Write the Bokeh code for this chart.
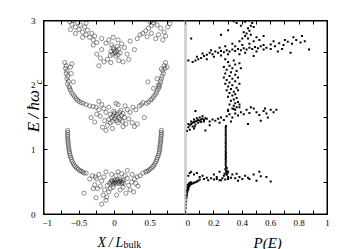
from math import pi
from bokeh.plotting import figure
from bokeh.layouts import row, column
from bokeh.models import Range1d, LinearAxis, FixedTicker, Label, Span
from bokeh.embed import file_html
from bokeh.resources import INLINE

EDGE_COLOR = "black"
TOPAX_COLOR = "black"
BOTAX_COLOR = "black"

# ---------------- data: left panel (X / L_bulk , E / hbar w_c) ----------------
band0_left_curve = [(-0.66,1.30),(-0.66,1.27),(-0.66,1.24),(-0.66,1.21),(-0.66,1.18),(-0.655,1.15),
    (-0.655,1.12),(-0.65,1.09),(-0.65,1.06),(-0.645,1.03),(-0.64,1.00),(-0.635,0.97),(-0.63,0.94),
    (-0.625,0.91),(-0.615,0.88),(-0.605,0.85),(-0.595,0.82),(-0.58,0.79),(-0.565,0.76),(-0.55,0.74),
    (-0.53,0.72),(-0.51,0.70),(-0.49,0.68),(-0.47,0.67),(-0.45,0.66),(-0.43,0.64)]
band0_right_curve = [(0.66,1.30),(0.66,1.27),(0.66,1.24),(0.655,1.21),(0.655,1.18),(0.65,1.15),
    (0.65,1.12),(0.645,1.09),(0.64,1.06),(0.64,1.03),(0.635,1.00),(0.63,0.97),(0.625,0.94),
    (0.615,0.91),(0.605,0.88),(0.595,0.85),(0.585,0.82),(0.57,0.79),(0.555,0.76),(0.54,0.74),
    (0.52,0.72),(0.50,0.70),(0.48,0.68),(0.46,0.67),(0.44,0.66)]
band0_cluster = [(-0.05,0.50),(-0.03,0.51),(-0.01,0.49),(0.01,0.50),(0.03,0.52),(0.05,0.50),(0.07,0.51),
    (0.09,0.52),(0.11,0.50),(0.0,0.53),(0.02,0.48),(0.06,0.48),(-0.02,0.47),(0.04,0.54),(0.08,0.55),
    (0.10,0.48),(-0.04,0.53),(0.12,0.53),(-0.07,0.48),(0.13,0.49),
    (-0.31,0.60),(-0.27,0.58),(-0.25,0.55),(-0.22,0.62),(-0.28,0.46),(-0.24,0.40),(-0.20,0.44),
    (-0.18,0.52),(-0.15,0.58),(-0.12,0.66),(-0.10,0.45),(-0.14,0.38),(-0.08,0.35),(-0.06,0.40),
    (-0.16,0.30),(-0.11,0.27),(-0.04,0.62),(0.02,0.60),(0.05,0.66),(0.08,0.38),(0.12,0.42),
    (0.15,0.60),(0.18,0.56),(0.20,0.45),(0.22,0.38),(0.25,0.62),(0.28,0.55),(0.30,0.48),(0.33,0.44),
    (0.36,0.60),(0.40,0.64),(0.27,0.35),(0.16,0.33),(-0.40,0.64),(-0.35,0.55),(-0.43,0.33),
    (-0.26,0.26),(-0.12,0.22),(-0.18,0.16),(0.03,0.30),(0.10,0.63),(-0.02,0.42),(0.18,0.68),
    (0.24,0.50),(-0.30,0.40),(0.32,0.58)]
band1_left_curve = [(-0.70,2.35),(-0.68,2.30),(-0.69,2.26),(-0.67,2.22),(-0.68,2.18),(-0.66,2.14),
    (-0.67,2.10),(-0.65,2.06),(-0.66,2.02),(-0.64,1.98),(-0.63,1.95),(-0.62,1.92),(-0.60,1.88),
    (-0.58,1.85),(-0.56,1.82),(-0.54,1.79),(-0.52,1.77),(-0.50,1.75),(-0.47,1.73),(-0.44,1.72),
    (-0.62,2.28),(-0.60,2.33),(-0.58,2.05),(-0.61,2.18)]
band1_right_curve = [(0.72,2.35),(0.70,2.30),(0.71,2.26),(0.68,2.22),(0.69,2.18),(0.67,2.14),
    (0.66,2.10),(0.65,2.06),(0.64,2.02),(0.63,1.98),(0.62,1.95),(0.60,1.92),(0.59,1.88),(0.57,1.85),
    (0.55,1.82),(0.53,1.79),(0.51,1.77),(0.48,1.74),(0.45,1.72),(0.60,2.10),(0.62,2.00),(0.55,1.95),
    (0.74,2.28),(0.66,2.25),(0.47,2.05)]
band1_cluster = [(-0.04,1.50),(-0.02,1.53),(0.0,1.48),(0.02,1.52),(0.04,1.55),(0.06,1.50),(0.08,1.47),
    (0.10,1.53),(0.12,1.56),(0.0,1.57),(0.03,1.45),(-0.06,1.55),(0.07,1.58),(0.14,1.50),(-0.08,1.47),
    (0.05,1.42),(-0.01,1.60),(0.11,1.44),(0.09,1.61),(-0.03,1.44),
    (-0.40,1.70),(-0.35,1.68),(-0.30,1.67),(-0.26,1.66),(-0.22,1.62),(-0.18,1.70),(-0.15,1.64),
    (-0.12,1.58),(-0.20,1.52),(-0.25,1.55),(-0.14,1.45),(-0.10,1.38),(-0.17,1.35),(-0.12,1.30),
    (-0.06,1.42),(-0.03,1.33),(0.18,1.62),(0.22,1.58),(0.26,1.66),(0.30,1.62),(0.35,1.68),
    (0.38,1.70),(0.40,1.73),(0.20,1.48),(0.25,1.42),(0.28,1.36),(0.32,1.40),(0.16,1.40),(0.12,1.36),
    (0.05,1.70),(-0.08,1.66),(0.02,1.72),(-0.33,1.50),(0.42,1.50),(-0.28,1.43),(0.15,1.68),(-0.22,1.75)]
band2_cluster = [(-0.05,2.52),(-0.03,2.48),(-0.01,2.55),(0.01,2.50),(0.03,2.53),(0.05,2.47),(-0.02,2.58),
    (0.02,2.45),(0.06,2.56),(-0.06,2.46),(0.0,2.52),(0.04,2.60),(-0.04,2.62),(0.08,2.50),
    (-0.20,2.42),(-0.15,2.36),(-0.10,2.40),(-0.25,2.48),(-0.18,2.55),(-0.12,2.65),(-0.08,2.70),
    (-0.02,2.74),(0.05,2.70),(0.10,2.64),(0.14,2.58),(0.18,2.48),(0.20,2.40),(0.12,2.36),(0.06,2.38),
    (-0.05,2.35),(-0.22,2.30),(0.28,2.55),(0.22,2.68)]
band2_arms = [(0.32,2.72),(0.36,2.78),(0.40,2.80),(0.44,2.84),(0.48,2.88),(0.52,2.92),(0.55,2.96),
    (0.56,3.0),(0.50,2.98),(0.60,2.93),(0.65,2.88),(0.70,2.82),(0.72,2.76),(0.62,2.78),(0.68,2.70),
    (0.58,2.72),(0.52,2.80),(0.75,2.90),(0.78,2.95),(0.46,2.75),
    (-0.30,2.70),(-0.35,2.74),(-0.40,2.78),(-0.45,2.82),(-0.50,2.86),(-0.55,2.90),(-0.60,2.94),
    (-0.63,2.98),(-0.58,3.0),(-0.52,2.97),(-0.48,2.93),(-0.42,2.90),(-0.38,2.85),(-0.32,2.80),
    (-0.28,2.76),(-0.55,2.80),(-0.45,2.74),(-0.25,2.66),(-0.30,2.62),(-0.18,2.72),(-0.62,2.86),
    (-0.40,2.96)]

# ---------------- data: right panel (P(E), E / hbar w_c) ----------------
p_bottom = [(0.003,0.15),(0.005,0.20),(0.006,0.25),(0.008,0.28),(0.010,0.31),(0.012,0.34),(0.015,0.37),
    (0.018,0.40),(0.022,0.42),(0.027,0.44),(0.032,0.46),(0.04,0.47),(0.05,0.48),(0.06,0.49),(0.07,0.50),
    (0.08,0.51),(0.09,0.52),(0.012,0.42),(0.02,0.45),(0.03,0.49),(0.008,0.38),(0.015,0.46),(0.025,0.48),
    (0.04,0.50),(0.01,0.35),(0.005,0.30),(0.002,0.10),(0.02,0.39)]
p_band0 = [(0.10,0.54),(0.13,0.55),(0.16,0.53),(0.18,0.56),(0.20,0.54),(0.22,0.55),(0.24,0.53),
    (0.26,0.56),(0.28,0.54),(0.30,0.55),(0.32,0.57),(0.35,0.56),(0.38,0.58),(0.40,0.55),(0.44,0.57),
    (0.48,0.62),(0.50,0.52),(0.53,0.59),(0.57,0.58),(0.60,0.51),(0.06,0.62),(0.08,0.64),(0.04,0.66),
    (0.12,0.60),(0.20,0.62),(0.24,0.66),(0.33,0.62),(0.36,0.63),(0.42,0.60),(0.45,0.55),(0.52,0.66),
    (0.30,0.58),(0.27,0.60),(0.15,0.57),(0.37,0.52),(0.02,0.60),(0.03,0.64),(0.10,0.58),(0.22,0.58),
    (0.29,0.62),(0.25,0.53)]
p_plateau = [(0.29,0.62),(0.295,0.64),(0.285,0.66),(0.29,0.68),(0.28,0.70),(0.29,0.72),(0.285,0.74),
    (0.283,0.77),(0.283,0.80),(0.284,0.83),(0.283,0.86),(0.284,0.89),(0.283,0.92),(0.284,0.95),
    (0.283,0.98),(0.284,1.01),(0.283,1.04),(0.284,1.07),(0.283,1.10),(0.284,1.13),(0.283,1.16),
    (0.284,1.19),(0.283,1.22),(0.284,1.25),(0.283,1.28),(0.284,1.31),(0.283,1.34),(0.285,1.37),
    (0.275,0.63),(0.30,0.66)]
p_band1 = [(0.02,1.35),(0.03,1.38),(0.04,1.40),(0.05,1.42),(0.06,1.43),(0.07,1.44),(0.08,1.45),
    (0.09,1.46),(0.10,1.45),(0.11,1.47),(0.12,1.48),(0.13,1.46),(0.14,1.49),(0.15,1.48),(0.02,1.40),
    (0.04,1.44),(0.06,1.47),(0.08,1.49),(0.03,1.31),(0.05,1.36),(0.07,1.39),(0.09,1.42),(0.11,1.43),
    (0.13,1.44),(0.01,1.29),(0.12,1.52),(0.10,1.50),(0.06,1.33),(0.065,1.36),
    (0.17,1.44),(0.19,1.47),(0.21,1.45),(0.23,1.48),(0.25,1.50),(0.27,1.46),(0.29,1.52),(0.31,1.55),
    (0.33,1.50),(0.35,1.56),(0.37,1.53),(0.39,1.58),(0.41,1.55),(0.43,1.62),(0.45,1.57),(0.48,1.64),
    (0.50,1.58),(0.52,1.54),(0.55,1.60),(0.57,1.56),(0.60,1.62),(0.62,1.58),(0.64,1.62),(0.58,1.50),
    (0.53,1.45),(0.44,1.40),(0.38,1.66),(0.35,1.62),(0.30,1.60),(0.32,1.44),(0.24,1.42),(0.14,1.30),
    (0.17,1.38),(0.07,1.60),(0.46,1.66),(0.56,1.64)]
p_column = [(0.30,1.62),(0.33,1.64),(0.36,1.66),(0.34,1.68),(0.31,1.70),(0.35,1.72),(0.37,1.74),
    (0.32,1.76),(0.34,1.78),(0.36,1.80),(0.30,1.82),(0.33,1.84),(0.35,1.86),(0.31,1.88),(0.34,1.90),
    (0.29,1.92),(0.32,1.94),(0.36,1.96),(0.30,1.98),(0.33,2.00),(0.28,2.02),(0.31,2.04),(0.35,2.06),
    (0.29,2.08),(0.33,2.10),(0.27,2.12),(0.31,2.14),(0.35,2.16),(0.28,2.18),(0.32,2.20),(0.36,2.22),
    (0.29,2.24),(0.33,2.26),(0.27,2.28),(0.31,2.30),(0.35,2.32),(0.38,2.34),(0.30,2.36),(0.34,2.38),
    (0.28,2.40),(0.37,1.92),(0.38,2.02),(0.34,1.63),(0.38,1.70),(0.37,2.12),(0.39,2.26)]
p_band2 = [(0.05,2.36),(0.07,2.38),(0.09,2.40),(0.11,2.42),(0.08,2.44),(0.13,2.45),(0.15,2.47),
    (0.12,2.49),(0.17,2.50),(0.19,2.48),(0.21,2.52),(0.23,2.50),(0.25,2.53),(0.27,2.51),(0.29,2.54),
    (0.31,2.52),(0.33,2.55),(0.35,2.53),(0.37,2.56),(0.39,2.54),(0.41,2.57),(0.43,2.55),(0.45,2.58),
    (0.47,2.56),(0.49,2.59),(0.51,2.57),(0.53,2.60),(0.55,2.62),(0.57,2.58),(0.60,2.63),(0.63,2.60),
    (0.66,2.65),(0.69,2.62),(0.72,2.67),(0.75,2.64),(0.78,2.70),(0.81,2.66),(0.84,2.68),(0.87,2.55),
    (0.20,2.44),(0.25,2.46),(0.30,2.48),(0.35,2.60),(0.40,2.62),(0.45,2.64),(0.50,2.52),(0.55,2.55),
    (0.60,2.56),(0.65,2.52),(0.70,2.70),(0.76,2.74),(0.82,2.76),(0.24,2.58),(0.18,2.54),(0.28,2.60),
    (0.33,2.64),(0.38,2.48),(0.42,2.50),(0.62,2.68),(0.02,2.38),(0.04,2.72),(0.15,2.40),(0.48,2.45),
    (0.68,2.56),(0.74,2.50)]
p_top = [(0.38,2.68),(0.40,2.72),(0.42,2.76),(0.43,2.80),(0.45,2.84),(0.44,2.88),(0.46,2.92),
    (0.47,2.96),(0.45,3.0),(0.42,2.98),(0.48,2.90),(0.41,2.82),(0.46,2.78),(0.50,2.74),(0.52,2.70),
    (0.55,2.76),(0.36,2.96),(0.34,2.99),(0.30,2.85),(0.25,2.78),(0.39,2.92),(0.44,2.72),(0.48,2.68)]

left_ticks_major = [-1, -0.5, 0, 0.5]
left_ticks_minor = [-0.75, -0.25, 0.25, 0.75]
left_ticks_all = [-1, -0.75, -0.5, -0.25, 0, 0.25, 0.5, 0.75]
right_ticks_major = [0, 0.2, 0.4, 0.6, 0.8, 1]
right_ticks_minor = [0.1, 0.3, 0.5, 0.7, 0.9]
right_ticks_all = [0, 0.1, 0.2, 0.3, 0.4, 0.5, 0.6, 0.7, 0.8, 0.9, 1]
e_ticks_major = [0, 1, 2, 3]
e_tick_labels = ["0", "1", "2", "3"]
e_ticks_all = [0, 0.5, 1, 1.5, 2, 2.5, 3]

SERIF = "Liberation Serif"
W_LEFT, W_FRAME, W_RIGHT = 42, 142, 24
TOP, FRAME_H, BOTTOM, STRIP_H = 20, 194, 15, 20
E_LO, E_HI = 0.0, 3.0

left_pts = (band0_left_curve + band0_right_curve + band0_cluster + band1_left_curve +
            band1_right_curve + band1_cluster + band2_cluster + band2_arms)
right_pts = p_bottom + p_band0 + p_plateau + p_band1 + p_column + p_band2 + p_top


def style_axis(ax, standoff=5, color=BOTAX_COLOR):
    ax.axis_line_color = color
    ax.axis_line_width = 1
    ax.major_tick_in = 4
    ax.major_tick_out = 0
    ax.minor_tick_in = 4
    ax.minor_tick_out = 0
    ax.major_tick_line_color = color
    ax.minor_tick_line_color = color
    ax.major_label_text_font = SERIF
    ax.major_label_text_font_size = "9px"
    ax.major_label_text_color = "black"
    ax.major_label_standoff = standoff


def ticks_only_axis(ticks):
    ax = LinearAxis(ticker=FixedTicker(ticks=ticks, minor_ticks=[]))
    style_axis(ax, standoff=0, color=TOPAX_COLOR)
    ax.major_label_overrides = {t: "" for t in ticks}
    ax.major_label_text_color = None
    return ax


def frame_edge(fig, loc, dim):
    fig.add_layout(Span(location=loc, dimension=dim, line_color=EDGE_COLOR, line_width=2))


def bare(fig):
    fig.grid.visible = False
    fig.outline_line_color = None
    fig.background_fill_color = "white"
    fig.border_fill_color = "white"
    return fig


common = dict(output_backend="svg", toolbar_location=None, x_axis_location=None,
              y_axis_location=None, frame_align=False, title=None)

# ---------------- left panel ----------------
p1 = bare(figure(width=W_FRAME + 1, height=TOP + FRAME_H + BOTTOM,
                 x_range=Range1d(-1, 1), y_range=Range1d(E_LO, E_HI),
                 min_border_left=1, min_border_right=0, min_border_top=TOP,
                 min_border_bottom=BOTTOM, **common))
xb = LinearAxis(ticker=FixedTicker(ticks=left_ticks_major, minor_ticks=left_ticks_minor))
style_axis(xb)
p1.add_layout(xb, "below")
p1.add_layout(ticks_only_axis(left_ticks_all), "above")
p1.add_layout(ticks_only_axis(e_ticks_all), "left")
frame_edge(p1, p1.x_range.start, "height")
frame_edge(p1, p1.y_range.start, "width")
frame_edge(p1, p1.y_range.end, "width")
p1.add_layout(Span(location=p1.x_range.end, dimension="height", line_color="#a8a8a8", line_width=2))
p1.scatter([p[0] for p in left_pts], [p[1] for p in left_pts], marker="circle", size=4.2,
           fill_color=None, line_color="#333333", line_width=0.55)

# ---------------- right panel ----------------
p2 = bare(figure(width=W_FRAME + W_RIGHT, height=TOP + FRAME_H + BOTTOM,
                 x_range=Range1d(0, 1), y_range=p1.y_range,
                 min_border_left=0, min_border_right=W_RIGHT, min_border_top=TOP,
                 min_border_bottom=BOTTOM, **common))
xb2 = LinearAxis(ticker=FixedTicker(ticks=right_ticks_major, minor_ticks=right_ticks_minor))
style_axis(xb2)
p2.add_layout(xb2, "below")
p2.add_layout(ticks_only_axis(right_ticks_all), "above")
p2.add_layout(ticks_only_axis(e_ticks_all), "right")
frame_edge(p2, p2.x_range.end, "height")
frame_edge(p2, E_LO, "width")
frame_edge(p2, E_HI, "width")
p2.add_layout(Span(location=p2.x_range.start, dimension="height", line_color="#a8a8a8", line_width=2))
p2.scatter([p[0] for p in right_pts], [p[1] for p in right_pts], marker="square", size=2.0,
           fill_color="black", line_color="black", line_width=0)

# ---------------- left strip: E tick labels and axis title ----------------
e_per_px = (E_HI - E_LO) / FRAME_H
ls = bare(figure(width=W_LEFT, height=TOP + FRAME_H + BOTTOM,
                 x_range=Range1d(0, W_LEFT),
                 y_range=Range1d(E_LO - BOTTOM * e_per_px, E_HI + TOP * e_per_px),
                 min_border=0, **common))
for t, s in zip(e_ticks_major, e_tick_labels):
    ls.add_layout(Label(x=35, y=t, text=s, text_font=SERIF, text_font_size="9px",
                        text_align="right", text_baseline="middle", text_color="black"))
ls.add_layout(Label(x=33, y=1.27, text="E\u2009/\u2009ħω", angle=pi / 2,
                    text_font=SERIF, text_font_style="italic", text_font_size="17px",
                    text_baseline="alphabetic", text_align="left", text_color="black"))
ls.add_layout(Label(x=37, y=2.01, text="c", angle=pi / 2,
                    text_font=SERIF, text_font_style="italic", text_font_size="11px",
                    text_baseline="alphabetic", text_align="left", text_color="black"))

# ---------------- bottom strip: axis titles ----------------
TOTAL_W = W_LEFT + W_FRAME + 1 + W_FRAME + W_RIGHT
bs = bare(figure(width=TOTAL_W, height=STRIP_H,
                 x_range=Range1d(0, TOTAL_W), y_range=Range1d(0, STRIP_H),
                 min_border=0, **common))
bs.add_layout(Label(x=97, y=7, text="X\u2009/\u2009L",
                    text_font=SERIF, text_font_style="italic", text_font_size="14px",
                    text_baseline="alphabetic", text_align="left", text_color="black"))
bs.add_layout(Label(x=123, y=5, text="bulk",
                    text_font=SERIF, text_font_size="10px",
                    text_baseline="alphabetic", text_align="left", text_color="black"))
bs.add_layout(Label(x=253, y=7, text="P(E)",
                    text_font=SERIF, text_font_style="italic", text_font_size="15px",
                    text_baseline="alphabetic", text_align="left", text_color="black"))

layout = column(row(ls, p1, p2, spacing=0), bs, spacing=0)
open("out.html", "w").write(file_html(layout, INLINE))
